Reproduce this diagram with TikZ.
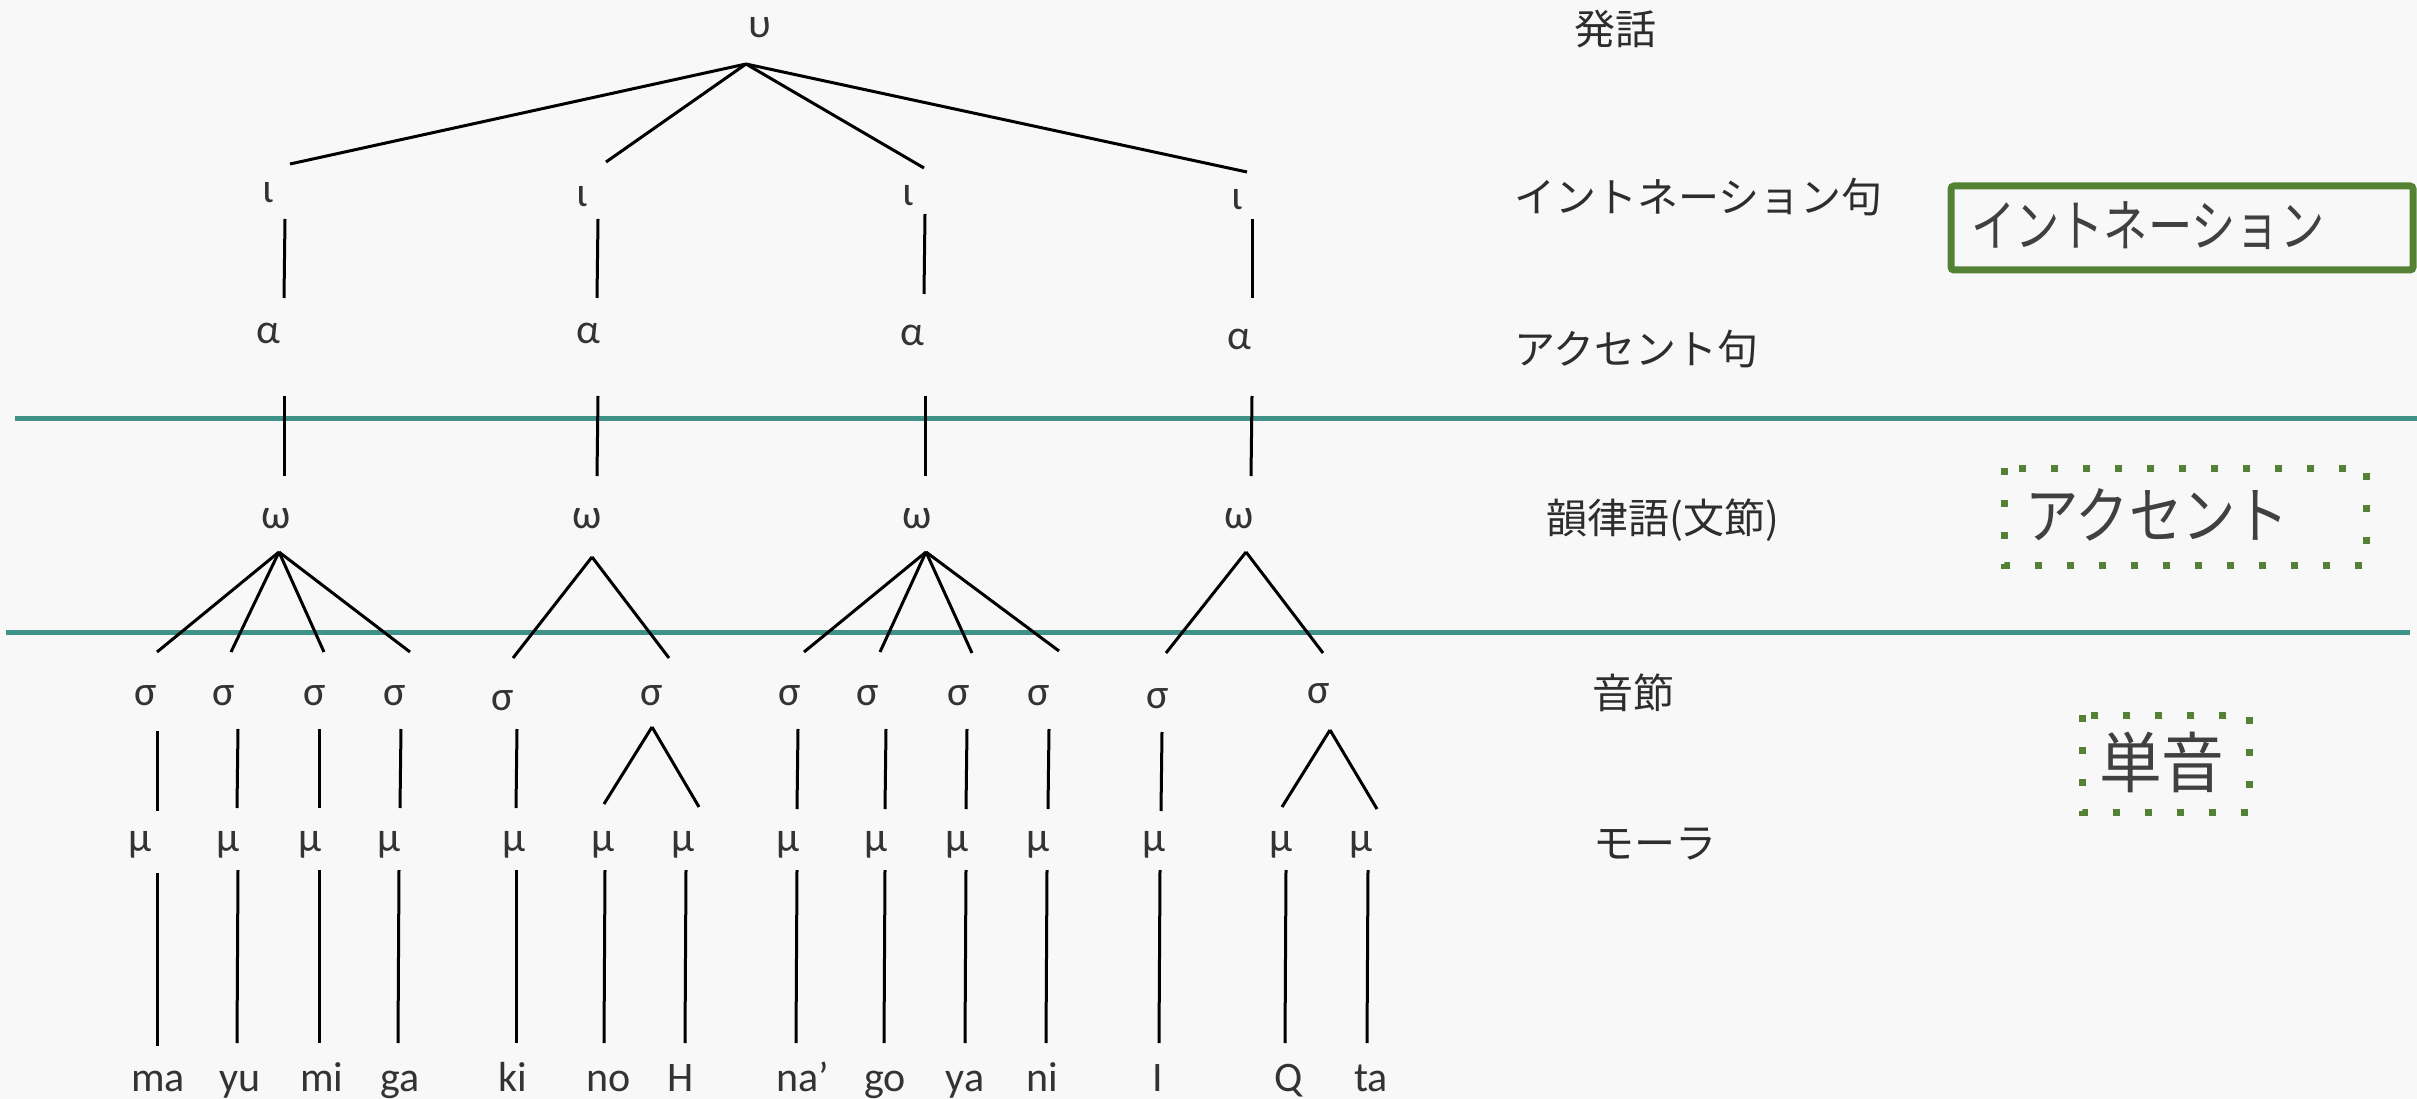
\documentclass[tikz,border=0pt]{standalone}
\usepackage{graphicx}
\usepackage{fontspec}
\setmainfont{Carlito}
\newfontfamily\jp{Noto Sans CJK JP}
\definecolor{bg}{RGB}{248,248,248}
\definecolor{symgray}{RGB}{51,51,51}
\definecolor{labgray}{RGB}{45,45,45}
\definecolor{boxgray}{RGB}{64,64,64}
\definecolor{rulecol}{RGB}{64,146,136}
\definecolor{boxgreen}{RGB}{84,130,53}
\begin{document}
\begin{tikzpicture}[x=1pt,y=-1pt,
  sym/.style={font=\fontsize{42}{48}\selectfont, text=symgray, inner sep=0pt, anchor=base},
  lab/.style={font=\jp\fontsize{41}{48}\selectfont, text=labgray, inner sep=0pt, anchor=west},
  boxlab/.style={font=\jp\fontsize{#1}{#1}\selectfont, text=boxgray, inner sep=0pt, anchor=west},
  edge/.style={line width=3pt, black},
  rulel/.style={line width=5pt, rulecol},
  solidbox/.style={line width=7pt, boxgreen, rounded corners=3pt},
  dotbox/.style={line width=7pt, boxgreen, dash pattern=on 7pt off 25pt}]
\useasboundingbox (0,0) rectangle (2417,1099);
\fill[bg] (0,0) rectangle (2417,1099);

% separator rules
\coordinate (r1a) at (15,418); \coordinate (r1b) at (2417,418);
\coordinate (r2a) at (6,632);  \coordinate (r2b) at (2410,632);
\draw[rulel] (r1a) -- (r1b);
\draw[rulel] (r2a) -- (r2b);

% tree symbols
\node[sym] (u) at (760,38) {υ};
\foreach \n/\x/\y in {1/268/203, 2/582/207, 3/908/206, 4/1237/210}
  \node[sym] (iota\n) at (\x,\y) {ι};
\foreach \n/\x/\y in {1/268/343, 2/588/343, 3/912/345, 4/1239/349}
  \node[sym] (alpha\n) at (\x,\y) {α};
\foreach \n/\x/\y in {1/276/528, 2/587/528, 3/917/528, 4/1239/528}
  \node[sym] (omega\n) at (\x,\y) {ω};
\foreach \n/\x/\y in {1/146/705, 2/224/705, 3/315/705, 4/395/705, 5/503/710, 6/652/705,
  7/790/705, 8/868/705, 9/959/705, 10/1039/705, 11/1158/708, 12/1319/703}
  \node[sym] (sigma\n) at (\x,\y) {σ};
\foreach \n/\x in {1/140, 2/228, 3/310, 4/389, 5/514, 6/603, 7/683, 8/788, 9/876, 10/957,
  11/1038, 12/1154, 13/1281, 14/1361}
  \node[sym] (mu\n) at (\x,851) {μ};
\foreach \n/\x/\t in {1/158/ma, 2/240/yu, 3/322/mi, 4/400/ga, 5/513/ki, 6/609/no, 7/681/H,
  8/803/na’, 9/885/go, 10/965/ya, 11/1042/ni, 12/1158/I, 13/1289/Q, 14/1371/ta}
  \node[sym] (w\n) at (\x,1091) {\t};

% utterance to intonation phrases
\coordinate (U) at (746,64);
\foreach \n/\x/\y in {1/290/164, 2/606/162, 3/924/168, 4/1247/172}{
  \coordinate (ut\n) at (\x,\y);
  \draw[edge] (U) -- (ut\n);
}

% vertical connectors
\foreach \n/\xa/\ya/\xb/\yb in {
  ia1/285/219/284/298, ia2/598/219/597/298, ia3/925/214/924/294, ia4/1252/219/1252/298,
  aw1/284/396/284/476, aw2/598/396/597/476, aw3/925/396/925/476, aw4/1252/396/1251/476,
  sm1/157/731/157/811, sm2/238/729/237/808, sm3/319/729/319/808, sm4/401/729/400/808,
  sm5/517/729/516/808, sm7/798/729/797/809, sm8/886/729/885/809, sm9/967/729/966/809,
  sm10/1049/729/1048/809, sm11/1162/732/1161/811,
  mw1/157/873/157/1046, mw2/238/870/237/1043, mw3/319/870/319/1043, mw4/399/870/398/1043,
  mw5/516/870/516/1043, mw6/605/870/604/1043, mw7/686/870/685/1043, mw8/797/870/796/1043,
  mw9/885/870/884/1043, mw10/966/870/965/1043, mw11/1047/870/1046/1043,
  mw12/1160/870/1159/1043, mw13/1286/870/1285/1043, mw14/1368/870/1367/1043}{
  \coordinate (\n a) at (\xa,\ya);
  \coordinate (\n b) at (\xb,\yb);
  \draw[edge] (\n a) -- (\n b);
}

% word to syllable fans
\coordinate (W1) at (279,552);
\coordinate (W2) at (592,557);
\coordinate (W3) at (926,552);
\coordinate (W4) at (1246,552);
\coordinate (S6) at (652,727);
\coordinate (S12) at (1330,730);
\foreach \a/\n/\x/\y in {W1/1/157/652, W1/2/231/652, W1/3/324/652, W1/4/410/652,
  W2/1/513/658, W2/2/669/658,
  W3/1/804/652, W3/2/880/652, W3/3/972/653, W3/4/1059/651,
  W4/1/1166/653, W4/2/1323/653,
  S6/1/604/804, S6/2/699/807,
  S12/1/1282/807, S12/2/1377/809}{
  \coordinate (\a e\n) at (\x,\y);
  \draw[edge] (\a) -- (\a e\n);
}

% level labels
\node[lab] (l1) at (1574,29) {発話};
\node[lab] (l2) at (1514,197) {イントネーション句};
\node[lab] (l3) at (1514,349) {アクセント句};
\node[lab] (l4) at (1546,520) {韻律語(文節)};
\node[lab] (l5) at (1592,693) {音節};
\node[lab] (l6) at (1593,844) {モーラ};

% category boxes
\draw[solidbox] (1951,186) rectangle (2413,270);
\node[boxlab=56] (b1) at (1971,226) {\scalebox{0.79}[1]{イントネーション}};
\draw[dotbox] (2004,468) rectangle (2366,565);
\node[boxlab=62] (b2) at (2025,515) {\scalebox{0.86}[1]{アクセント}};
\draw[dotbox] (2082,715) rectangle (2249,812);
\node[boxlab=66] (b3) at (2099,762) {\scalebox{0.95}[1]{単音}};
\end{tikzpicture}
\end{document}
